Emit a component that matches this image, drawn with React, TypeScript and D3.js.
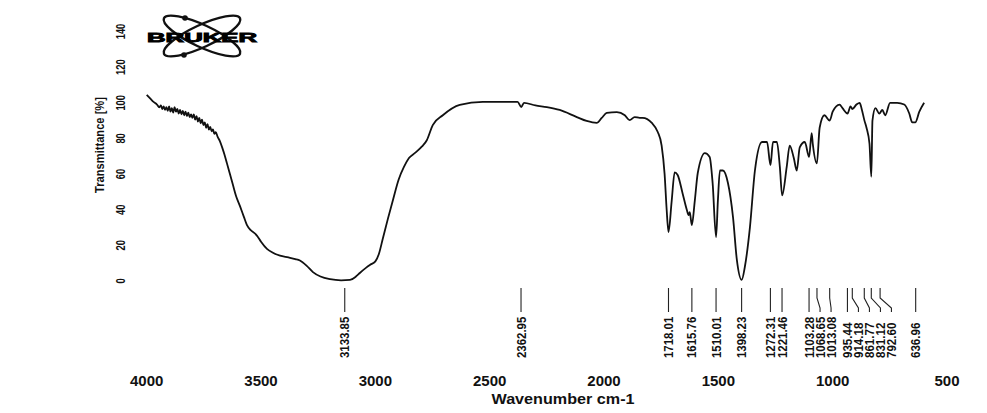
import React from "react";
import * as d3 from "d3";

// Spectrum: wavenumber (cm-1) and transmittance (%)
const wavenumbers = [
  4000, 3985, 3970, 3955, 3945, 3938, 3932, 3926, 3920, 3914, 3908, 3902, 3896, 3890, 3884, 3878,
  3872, 3866, 3860, 3854, 3848, 3842, 3836, 3830, 3824, 3818, 3812, 3806, 3800, 3794, 3788, 3782,
  3776, 3770, 3764, 3758, 3752, 3746, 3740, 3734, 3728, 3722, 3716, 3710, 3704, 3698, 3690, 3680,
  3670, 3660, 3649, 3636, 3623, 3610, 3592, 3575, 3562, 3545, 3530, 3518, 3500, 3474, 3450, 3417,
  3380, 3350, 3330, 3300, 3273, 3240, 3198, 3150, 3111, 3085, 3068, 3040, 3024, 3000, 2985, 2967,
  2945, 2923, 2898, 2875, 2853, 2825, 2796, 2775, 2749, 2705, 2631, 2530, 2443, 2378, 2362, 2350,
  2300, 2250, 2194, 2119, 2076, 2032, 2010, 1988, 1944, 1909, 1888, 1866, 1844, 1831, 1791, 1765,
  1748, 1735, 1726, 1718, 1704, 1691, 1678, 1656, 1638, 1630, 1625, 1616, 1603, 1590, 1559, 1538,
  1525, 1510, 1502, 1493, 1480, 1458, 1436, 1419, 1398, 1384, 1362, 1340, 1309, 1287, 1272, 1261,
  1244, 1231, 1221, 1201, 1188, 1170, 1157, 1144, 1122, 1103, 1092, 1087, 1069, 1057, 1036, 1013,
  1000, 970, 957, 935, 922, 914, 896, 882, 874, 861, 852, 839, 831, 826, 813, 796, 783, 770, 749,
  718, 687, 665, 652, 639, 621, 600,
];
const transmittance = [
  104.5, 102.5, 100.5, 99, 97.5, 98.5, 96.5, 98, 96, 97.5, 95.5, 98, 95, 97, 94.5, 97.5,
  95, 96.5, 94, 96, 93.5, 95.5, 93, 95, 92.5, 94.5, 92, 93.5, 91.5, 93.5, 90.5, 92.5,
  89.5, 91.5, 88.5, 90.5, 87.5, 89, 86, 88, 85, 86.5, 84, 85, 82.5, 83.5, 81, 78.5,
  75, 71, 66, 60, 54, 48, 42, 36, 31.5, 28.5, 27, 25.5, 22, 18, 16, 14.2,
  13.2, 12.3, 11.5, 8.5, 5, 2.5, 1, 0.4, 0.6, 2.5, 4.5, 7.5, 9, 11, 15, 24,
  35, 45.5, 57, 64, 69, 72, 75.5, 79, 87.5, 93, 98.8, 100.5, 100.5, 100.5, 97.6, 100,
  98.5, 97.6, 96, 92, 89.8, 88.7, 91.5, 94.3, 94.8, 93, 90.3, 92, 91.5, 91.5, 88.7, 83.6,
  76, 60, 40, 27.5, 45, 61, 59.5, 49, 40, 37, 38.7, 31.4, 45, 60.6, 71.8, 69.6,
  55, 24.7, 45, 62, 62, 55, 36, 11.8, 0.6, 8, 30, 62, 78, 78, 65, 78,
  78, 64, 48, 64, 76, 69, 62, 75, 78, 69.6, 83, 77, 66, 86, 93, 90,
  95, 99, 97, 94, 98, 96.5, 99, 100, 97, 90, 86, 77, 58.5, 90, 97, 94, 96, 93, 100,
  100, 99, 94, 89, 89, 95, 100,
];

const xTicks = [4000, 3500, 3000, 2500, 2000, 1500, 1000, 500];
const yTicks = [0, 20, 40, 60, 80, 100, 120, 140];
const peakLabels = [
  "3133.85", "2362.95", "1718.01", "1615.76", "1510.01", "1398.23", "1272.31", "1221.46",
  "1103.28", "1068.65", "1013.08", "935.44", "914.18", "861.77", "831.12", "792.60", "636.96",
];

const FONT = "'Liberation Sans', Arial, sans-serif";

export default function App() {
  const x = d3.scaleLinear().domain([4000, 500]).range([146.7, 947]);
  const y = d3.scaleLinear().domain([0, 140]).range([281, 31.5]);

  const pts: [number, number][] = wavenumbers.map((w, i) => [w, transmittance[i]]);
  const line = d3
    .line<[number, number]>()
    .x((d) => x(d[0]))
    .y((d) => y(d[1]))
    .curve(d3.curveMonotoneX);
  const sorted = [...pts].sort((a, b) => b[0] - a[0]);

  // peak label positions with spreading
  const peaks = peakLabels.map((s) => ({ s, px: x(parseFloat(s)) }));
  peaks.sort((a, b) => a.px - b.px);
  const gap = 11;
  const labelX: number[] = [];
  peaks.forEach((p, i) => {
    labelX.push(i === 0 ? p.px : Math.max(p.px, labelX[i - 1] + gap));
  });

  const lineTop = 288;
  const bendStart = 298;
  const bendEnd = 308;
  const lineBottom = 312;
  const labelBottom = 358;

  return (
    <svg
      width={987}
      height={413}
      style={{ position: "absolute", left: 0, top: 0, background: "#fff" }}
      fontFamily={FONT}
    >
      {/* Bruker logo */}
      <g>
        <ellipse cx={202} cy={36} rx={42} ry={11} fill="none" stroke="#111" strokeWidth={2.4}
          transform="rotate(25 202 36)" />
        <ellipse cx={202} cy={36} rx={42} ry={11} fill="none" stroke="#111" strokeWidth={2.4}
          transform="rotate(-25 202 36)" />
        <circle cx={185} cy={18} r={2.8} fill="#111" />
        <circle cx={184} cy={55} r={2.8} fill="#111" />
        <text x={147} y={42} fontSize={12} fontWeight={900} textLength={110}
          lengthAdjust="spacingAndGlyphs" fill="#000" stroke="#000" strokeWidth={0.8}>
          BRUKER
        </text>
      </g>

      {/* Y axis labels */}
      {yTicks.map((t) => (
        <text key={t} transform={`translate(125,${y(t)}) rotate(-90)`} textAnchor="middle"
          fontSize={12.5} fontWeight="bold" textLength={String(t).length * 5.2}
          lengthAdjust="spacingAndGlyphs" fill="#111">
          {t}
        </text>
      ))}
      <text transform={`translate(104,145) rotate(-90)`} textAnchor="middle" fontSize={13}
        fontWeight="bold" textLength={96} lengthAdjust="spacingAndGlyphs" fill="#111">
        Transmittance [%]
      </text>

      {/* X axis labels */}
      {xTicks.map((t) => (
        <text key={t} x={x(t)} y={386} textAnchor="middle" fontSize={15} fontWeight="bold" fill="#111">
          {t}
        </text>
      ))}
      <text x={563} y={404} textAnchor="middle" fontSize={14} fontWeight="bold" textLength={143}
        lengthAdjust="spacingAndGlyphs" fill="#111">
        Wavenumber cm-1
      </text>

      {/* Spectrum */}
      <path d={line(sorted) || ""} fill="none" stroke="#111" strokeWidth={1.8} strokeLinejoin="round" />

      {/* Peak markers */}
      {peaks.map((p, i) => {
        const lx = labelX[i];
        const d = `M${p.px},${lineTop}V${bendStart}L${lx},${bendEnd}V${lineBottom}`;
        return (
          <g key={p.s}>
            <path d={d} fill="none" stroke="#222" strokeWidth={1.1} />
            <text transform={`translate(${lx + 4.5},${labelBottom}) rotate(-90)`} textAnchor="start"
              fontSize={12} fontWeight="bold" textLength={p.s.length * 5.9}
              lengthAdjust="spacingAndGlyphs" fill="#111">
              {p.s}
            </text>
          </g>
        );
      })}
    </svg>
  );
}
